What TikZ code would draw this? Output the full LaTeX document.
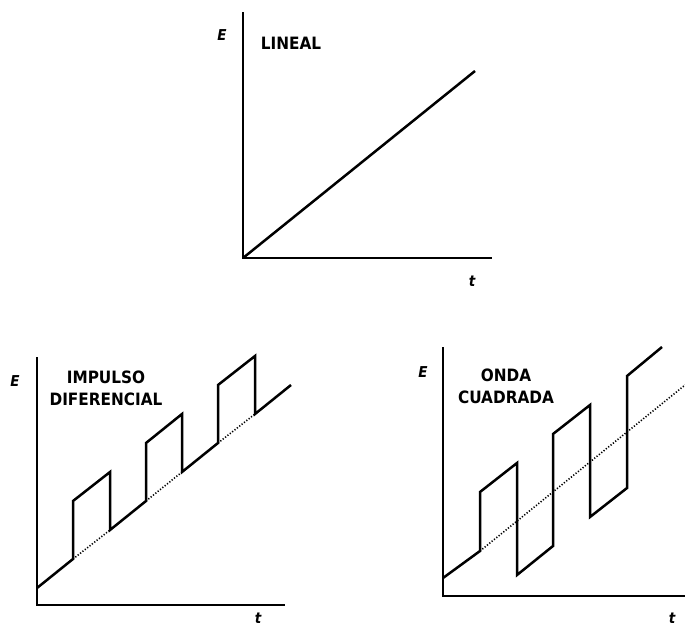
\documentclass[tikz,border=0pt]{standalone}
\usepackage{fontspec}
\setmainfont{DejaVu Sans Condensed}
\usetikzlibrary{positioning}
\tikzstyle{axis} = [line width=2.5pt, line cap=rect]
\tikzstyle{signal} = [line width=2.5pt, line join=miter]
\tikzstyle{ramp} = [line width=1.6pt, dash pattern=on 1.2pt off 1.8pt]
\tikzstyle{title} = [font=\fontsize{17}{22}\selectfont\bfseries, align=center, inner sep=0pt]
\tikzstyle{varname} = [font=\fontsize{15}{17}\selectfont\bfseries\itshape, inner sep=0pt]

\begin{document}
\begin{tikzpicture}[x=1pt, y=-1pt]
\useasboundingbox (0,0) rectangle (685,629);
% Nodes
\coordinate (lin0) at (243,258);
\coordinate (imp0) at (37,605);
\coordinate (sq0) at (443,596);

\node (linE) [varname] at (222,35) {E};
\node (lint) [varname] at (472,281) {t};
\node (lintitle) [title] at (291,43) {LINEAL};

\node (impE) [varname] at (15,381) {E};
\node (impt) [varname] at (258,618) {t};
\node (imptitle) [title] at (106,388) {IMPULSO\\DIFERENCIAL};

\node (sqE) [varname] at (423,372) {E};
\node (sqt) [varname] at (672,618) {t};
\node (sqtitle) [title] at (506,386) {ONDA\\CUADRADA};

% Axes
\draw [axis] (lin0 |- 0,13) -- (lin0) -- (491,258);
\draw [axis] (imp0 |- 0,358) -- (imp0) -- (284,605);
\draw [axis] (sq0 |- 0,348) -- (sq0) -- (690,596);

% Lineal
\draw [signal] (lin0) -- (475,71);

% Impulso diferencial
\draw [signal] (37,588) -- (73,559) -- (73,501) -- (110,472) -- (110,530)
  -- (146,501) -- (146,443) -- (182,414) -- (182,472)
  -- (218,443) -- (218,385) -- (255,356) -- (255,414) -- (291,385);
\draw [ramp] (73,559) -- (110,530);
\draw [ramp] (146,501) -- (182,472);
\draw [ramp] (218,443) -- (255,414);

% Onda cuadrada
\draw [signal] (443,578) -- (480,551) -- (480,492) -- (517,463) -- (517,575)
  -- (553,546) -- (553,434) -- (590,405) -- (590,517)
  -- (627,488) -- (627,376) -- (662,347);
\draw [ramp] (480,551) -- (690,381);

\end{tikzpicture}
\end{document}
